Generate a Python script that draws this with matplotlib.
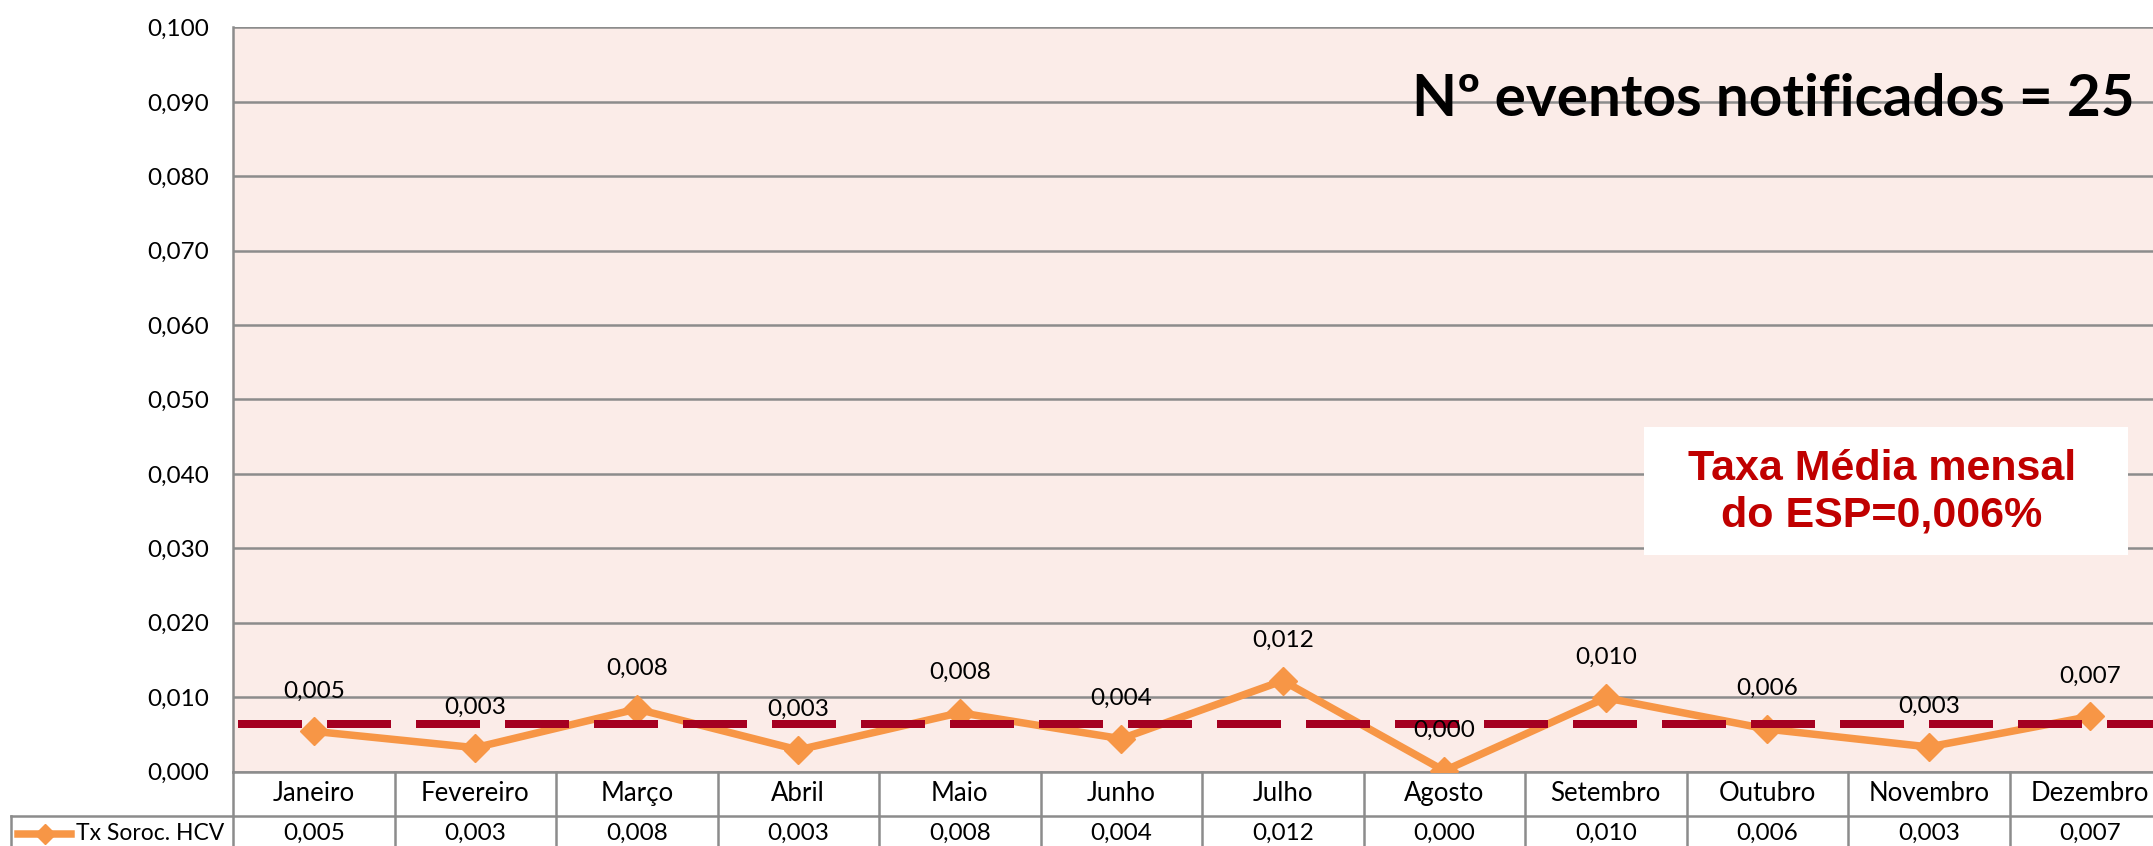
import matplotlib
matplotlib.use("Agg")
import matplotlib.pyplot as plt
import matplotlib.transforms as mtransforms
from matplotlib.lines import Line2D
from matplotlib.patches import Rectangle
import numpy as np

plt.rcParams['font.family'] = ['Lato', 'DejaVu Sans']

# ---- data ----
months = ["Janeiro", "Fevereiro", "Março", "Abril", "Maio", "Junho", "Julho",
          "Agosto", "Setembro", "Outubro", "Novembro", "Dezembro"]
rate_hcv = [0.0054, 0.0032, 0.0084, 0.0029, 0.0079, 0.0044, 0.0122,
            0.0001, 0.0099, 0.0057, 0.0033, 0.0074]
mean_esp = 0.0064
series_name = "Tx Soroc. HCV"
yticks = [0.0, 0.01, 0.02, 0.03, 0.04, 0.05, 0.06, 0.07, 0.08, 0.09, 0.10]
title_text = "Nº eventos notificados = 25"
box_text = "Taxa Média mensal\ndo ESP=0,006%"

def fmt(v):
    return f"{v:.3f}".replace(".", ",")

W, H = 2153, 846
fig = plt.figure(figsize=(W / 100, H / 100), dpi=100)
left_px, right_px, bot_px, top_px = 233, 2171, 771.5, 27.5
ax = fig.add_axes([left_px / W, 1 - bot_px / H, (right_px - left_px) / W, (bot_px - top_px) / H])
ax_w = right_px - left_px
ax_h = bot_px - top_px

def ax_xy(px, py):
    return (px - left_px) / ax_w, (bot_px - py) / ax_h

orange = "#F79646"
dark_red = "#A50021"
grid_c = "#8C8C8C"
fs_num = 17.5
fs_txt = 18.5

ax.set_facecolor("#FBECE8")
x = np.arange(len(months))
ax.set_xlim(-0.5, len(months) - 0.5)
ax.set_ylim(0, 0.1)
ax.set_yticks(yticks)
ax.set_yticklabels([fmt(v) for v in yticks], fontsize=fs_num)
ax.tick_params(axis='y', length=0, pad=17.3)
ax.set_xticks([])
ax.yaxis.grid(True, color=grid_c, lw=1.8)
ax.set_axisbelow(True)
for s in ["right", "bottom", "top"]:
    ax.spines[s].set_visible(False)
ax.spines["left"].set_color(grid_c)
ax.spines["left"].set_linewidth(1.8)

# series
ax.plot(x, rate_hcv, color=orange, lw=5.4, marker="D", ms=14, zorder=3,
        solid_joinstyle="miter")
for xi, v in zip(x, rate_hcv):
    ax.annotate(fmt(v), (xi, v), xytext=(0, 29), textcoords="offset points",
                ha="center", va="center", fontsize=fs_num, zorder=5)

# mean dashed line
lw_dash = 8 * 0.72
ax.plot([-0.5 + 5 / 161.5, len(months) - 0.5], [mean_esp, mean_esp], color=dark_red,
        lw=lw_dash, linestyle=(0, (64 / 8, 25 / 8)), dash_capstyle="butt", zorder=4)

# annotations
tx, ty = ax_xy(2135, 100)
ax.text(tx, ty, title_text, transform=ax.transAxes, ha="right", va="center",
        fontsize=42, fontweight="bold")
bx0, by0 = ax_xy(1644, 555)
bx1, by1 = ax_xy(2128, 427)
ax.add_patch(Rectangle((bx0, by0), bx1 - bx0, by1 - by0, transform=ax.transAxes,
                       fc="white", ec="none", zorder=6))
cx, cy = ax_xy(1882, 492)
ax.text(cx, cy, box_text, transform=ax.transAxes, ha="center", va="center", fontsize=31,
        fontweight="bold", color="#C00000", family=["Liberation Sans", "DejaVu Sans"],
        linespacing=1.2, zorder=7)

# data table below
row_h = 44.5 / ax_h
blend = mtransforms.blended_transform_factory(ax.transData, ax.transAxes)
for i in range(len(months) + 1):
    ax.add_line(Line2D([i - 0.5, i - 0.5], [0, -2.2 * row_h], transform=blend,
                       color=grid_c, lw=1.8, clip_on=False))
ax.add_line(Line2D([0, 1], [0, 0], transform=ax.transAxes, color=grid_c, lw=1.8, clip_on=False))
x_tab_left = (11 - left_px) / ax_w
ax.add_line(Line2D([x_tab_left, 1], [-row_h, -row_h], transform=ax.transAxes,
                   color=grid_c, lw=1.8, clip_on=False))
ax.add_line(Line2D([x_tab_left, x_tab_left], [-row_h, -2.2 * row_h], transform=ax.transAxes,
                   color=grid_c, lw=1.8, clip_on=False))
for xi, m, v in zip(x, months, rate_hcv):
    ax.text(xi, -0.5 * row_h, m, transform=blend, ha="center", va="center", fontsize=fs_txt)
    ax.text(xi, -1.4 * row_h, fmt(v), transform=blend, ha="center", va="center", fontsize=fs_num)
# legend key
ax.add_line(Line2D([(18 - left_px) / ax_w, (71 - left_px) / ax_w], [-1.4 * row_h] * 2,
                   transform=ax.transAxes, color=orange, lw=5.4, clip_on=False))
ax.add_line(Line2D([(45 - left_px) / ax_w], [-1.4 * row_h], transform=ax.transAxes,
                   color=orange, marker="D", ms=10, clip_on=False))
ax.text((76 - left_px) / ax_w, -1.4 * row_h, series_name, transform=ax.transAxes,
        ha="left", va="center", fontsize=16.5)

fig.savefig("out.png", dpi=100)
